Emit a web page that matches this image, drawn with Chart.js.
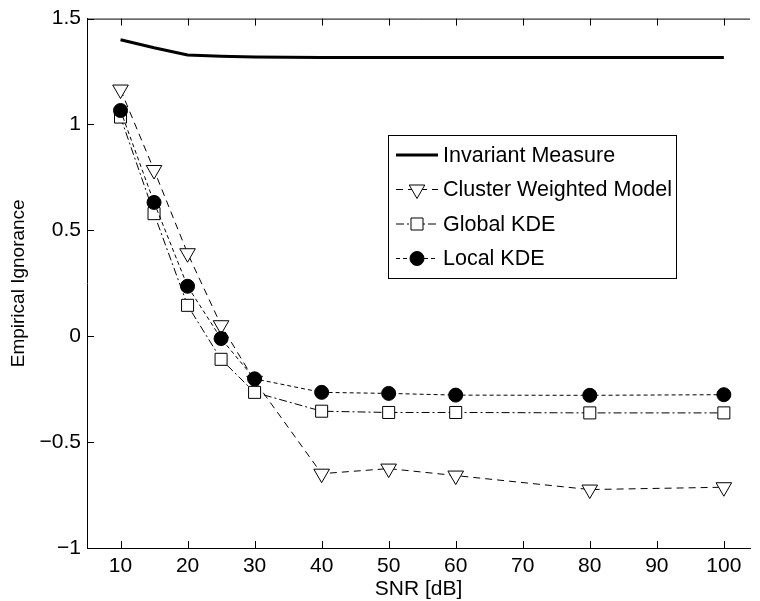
<!DOCTYPE html>
<html>
<head>
<meta charset="utf-8">
<script src="https://cdn.jsdelivr.net/npm/chart.js@4"></script>
<style>
  html, body { margin: 0; padding: 0; background: #fff; overflow: hidden; }
  #wrap { width: 760px; height: 601px; }
</style>
</head>
<body>
<div id="wrap"><canvas id="chart" width="760" height="601"></canvas></div>
<script>
// Data
const snr = [10, 15, 20, 25, 30, 40, 50, 60, 80, 100];
const invariantMeasure = [1.40, 1.362, 1.328, 1.322, 1.319, 1.316, 1.316, 1.316, 1.316, 1.316];
const clusterWeighted = [1.165, 0.785, 0.392, 0.052, -0.21, -0.649, -0.625, -0.658, -0.724, -0.713];
const globalKde = [1.035, 0.579, 0.146, -0.109, -0.265, -0.354, -0.36, -0.36, -0.362, -0.362];
const localKde = [1.066, 0.632, 0.236, -0.011, -0.201, -0.265, -0.27, -0.278, -0.279, -0.276];

const xTicks = [10, 20, 30, 40, 50, 60, 70, 80, 90, 100];
const yTicks = [-1, -0.5, 0, 0.5, 1, 1.5];

const FONT = '"Liberation Sans", Arial, Helvetica, sans-serif';

function pts(ys) {
  return snr.map((x, i) => ({ x: x, y: ys[i] }));
}

// inward tick marks + top frame line (matlab style)
const frame = {
  id: "frame",
  afterDraw(chart) {
    const { ctx, chartArea: a, scales } = chart;
    ctx.save();
    ctx.strokeStyle = "#000";
    ctx.lineWidth = 1;
    ctx.beginPath();
    ctx.moveTo(a.left, a.top + 0.5);
    ctx.lineTo(a.right, a.top + 0.5);
    xTicks.forEach((v) => {
      const px = Math.round(scales.x.getPixelForValue(v)) + 0.5;
      ctx.moveTo(px, a.bottom);
      ctx.lineTo(px, a.bottom - 7);
      ctx.moveTo(px, a.top);
      ctx.lineTo(px, a.top + 7);
    });
    yTicks.forEach((v) => {
      const py = Math.round(scales.y.getPixelForValue(v)) + 0.5;
      ctx.moveTo(a.left, py);
      ctx.lineTo(a.left + 7, py);
    });
    ctx.stroke();
    ctx.restore();
  },
};

// legend box inside the plot
const boxLegend = {
  id: "boxLegend",
  afterDraw(chart) {
    const ctx = chart.ctx;
    const x0 = 388, y0 = 135, w = 288, h = 143;
    ctx.save();
    ctx.fillStyle = "#fff";
    ctx.fillRect(x0, y0, w, h);
    ctx.strokeStyle = "#000";
    ctx.lineWidth = 1;
    ctx.strokeRect(x0 + 0.5, y0 + 0.5, w, h);

    chart.data.datasets.forEach((ds, i) => {
      const y = 155 + i * 34.5;
      ctx.save();
      ctx.strokeStyle = "#000";
      ctx.lineWidth = ds.borderWidth;
      ctx.setLineDash(ds.borderDash || []);
      ctx.beginPath();
      ctx.moveTo(396, y);
      ctx.lineTo(438, y);
      ctx.stroke();
      ctx.restore();
      if (ds.pointRadius > 0) {
        ctx.save();
        ctx.fillStyle = ds.pointBackgroundColor;
        ctx.strokeStyle = "#000";
        ctx.lineWidth = 1;
        Chart.helpers.drawPoint(ctx, {
          pointStyle: ds.pointStyle,
          radius: ds.pointRadius,
          rotation: ds.pointRotation || 0,
          borderWidth: 1,
        }, 417, y);
        ctx.restore();
      }
      ctx.fillStyle = "#000";
      ctx.font = "21.5px " + FONT;
      ctx.textBaseline = "middle";
      ctx.textAlign = "left";
      ctx.fillText(ds.label, 443, y + 1);
    });
    ctx.restore();
  },
};

new Chart(document.getElementById("chart"), {
  type: "line",
  data: {
    datasets: [
      {
        label: "Invariant Measure",
        data: pts(invariantMeasure),
        borderColor: "#000",
        borderWidth: 3,
        pointRadius: 0,
        order: 4,
      },
      {
        label: "Cluster Weighted Model",
        data: pts(clusterWeighted),
        borderColor: "#000",
        borderWidth: 1,
        borderDash: [7, 5],
        pointStyle: "triangle",
        pointRotation: 180,
        pointRadius: 9,
        pointBackgroundColor: "#fff",
        pointBorderColor: "#000",
        pointBorderWidth: 1,
        order: 3,
      },
      {
        label: "Global KDE",
        data: pts(globalKde),
        borderColor: "#000",
        borderWidth: 1,
        borderDash: [8, 3, 2, 3],
        pointStyle: "rect",
        pointRadius: 8.5,
        pointBackgroundColor: "#fff",
        pointBorderColor: "#000",
        pointBorderWidth: 1,
        order: 2,
      },
      {
        label: "Local KDE",
        data: pts(localKde),
        borderColor: "#000",
        borderWidth: 1,
        borderDash: [4, 3],
        pointStyle: "circle",
        pointRadius: 7,
        pointBackgroundColor: "#000",
        pointBorderColor: "#000",
        pointBorderWidth: 1,
        order: 1,
      },
    ],
  },
  options: {
    responsive: false,
    animation: false,
    events: [],
    layout: { padding: { top: 14, right: 0, bottom: 0, left: 0 } },
    plugins: { legend: { display: false }, tooltip: { enabled: false } },
    scales: {
      x: {
        type: "linear",
        min: 5,
        max: 103.9,
        afterBuildTicks: (s) => { s.ticks = xTicks.map((v) => ({ value: v })); },
        afterFit: (s) => { s.height = 53; },
        grid: { display: false, drawTicks: false },
        border: { display: true, color: "#000", width: 1 },
        ticks: { color: "#000", padding: 6, maxRotation: 0, font: { family: FONT, size: 21 } },
        title: {
          display: true,
          text: "SNR [dB]",
          color: "#000",
          padding: { top: 0, bottom: 0 },
          font: { family: FONT, size: 21, lineHeight: 1.15 },
        },
      },
      y: {
        min: -1,
        max: 1.5,
        afterBuildTicks: (s) => { s.ticks = yTicks.map((v) => ({ value: v })); },
        afterFit: (s) => { s.width = 87; },
        grid: { display: false, drawTicks: false },
        border: { display: true, color: "#000", width: 1 },
        ticks: {
          color: "#000",
          padding: 6,
          font: { family: FONT, size: 21 },
          callback: (v) => String(v).replace("-", "\u2212"),
        },
        title: {
          display: true,
          text: "Empirical Ignorance",
          color: "#000",
          padding: { top: 8, bottom: 0 },
          font: { family: FONT, size: 19, lineHeight: 1.15 },
        },
      },
    },
  },
  plugins: [frame, boxLegend],
});
</script>
</body>
</html>
